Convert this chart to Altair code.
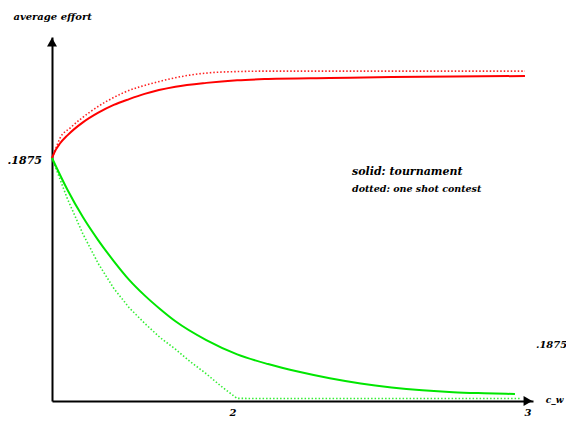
import altair as alt
import pandas as pd

# --- data ---
red_solid_x = [0, 0.025, 0.05, 0.1, 0.2, 0.3, 0.4, 0.5, 0.6, 0.8, 1.0, 1.2, 1.4, 1.8, 2.2, 2.6, 3.065]
red_solid_y = [0.1875, 0.1940, 0.1985, 0.2050, 0.2150, 0.2225, 0.2285, 0.2330, 0.2370, 0.2425, 0.2455, 0.2475, 0.2485, 0.2493, 0.2500, 0.2504, 0.2508]

red_dot_x = [0, 0.025, 0.052, 0.117, 0.246, 0.460, 0.680, 0.894, 1.108, 1.432, 1.931, 2.579, 3.065]
red_dot_y = [0.1875, 0.1950, 0.2029, 0.2106, 0.2230, 0.2377, 0.2461, 0.2515, 0.2539, 0.2546, 0.2546, 0.2546, 0.2546]

green_solid_x = [0, 0.1, 0.2, 0.3, 0.4, 0.5, 0.6, 0.7, 0.8, 1.0, 1.2, 1.4, 1.6, 1.8, 2.0, 2.2, 2.4, 2.6, 2.8, 3.0]
green_solid_y = [0.1875, 0.1630, 0.1420, 0.1240, 0.1080, 0.0935, 0.0815, 0.0710, 0.0615, 0.0470, 0.0360, 0.0285, 0.0225, 0.0175, 0.0135, 0.0105, 0.0083, 0.0068, 0.0060, 0.0054]

green_dot_x = [0, 0.1, 0.2, 0.3, 0.4, 0.5, 0.6, 0.7, 0.8, 0.9, 1.0, 1.1, 1.199, 1.614, 2.262, 3.032]
green_dot_y = [0.1875, 0.1560, 0.1290, 0.1060, 0.0870, 0.0720, 0.0600, 0.0490, 0.0400, 0.0300, 0.0210, 0.0110, 0.0020, 0.0019, 0.0019, 0.0019]

x_tick_pos = [1.173, 3.084]
x_tick_lab = ["2", "3"]

y_axis_title = "average effort"
x_axis_title = "c_w"
left_label = ".1875"
right_label = ".1875"
note_lines = ["solid: tournament", "dotted: one shot contest"]

XMAX = 3.117
YMAX = 0.2809

xs = alt.Scale(domain=[0, XMAX], nice=False, zero=False)
ys = alt.Scale(domain=[0, YMAX], nice=False, zero=False)

FONT = "DejaVu Serif"
AX = alt.Axis(title=None, labels=False, ticks=False, grid=False, domainColor="black", domainWidth=2)


def line_layer(xv, yv, color, width, dash=None, interp="monotone"):
    df = pd.DataFrame({"x": xv, "y": yv})
    kw = dict(color=color, strokeWidth=width, interpolate=interp)
    if dash:
        kw["strokeDash"] = dash
    return alt.Chart(df).mark_line(**kw).encode(
        x=alt.X("x:Q", scale=xs, axis=AX),
        y=alt.Y("y:Q", scale=ys, axis=AX),
    )


def text_layer(df, size, align="center", baseline="middle"):
    return alt.Chart(df).mark_text(
        font=FONT, fontStyle="italic", fontWeight="bold",
        fontSize=size, align=align, baseline=baseline, color="black"
    ).encode(x=alt.X("x:Q", scale=xs, axis=AX), y=alt.Y("y:Q", scale=ys, axis=AX), text="t:N")


layers = [
    line_layer(red_dot_x, red_dot_y, "#ff2020", 1.6, [1.5, 2]),
    line_layer(green_dot_x, green_dot_y, "#33ee33", 1.6, [1.5, 2], interp="linear"),
    line_layer(red_solid_x, red_solid_y, "#ff0000", 2),
    line_layer(green_solid_x, green_solid_y, "#00e600", 2),
]

# arrow heads on the axes
arrows_up = pd.DataFrame({"x": [0], "y": [0.2770]})
arrows_right = pd.DataFrame({"x": [3.084], "y": [0]})
layers.append(alt.Chart(arrows_up).mark_point(shape="triangle-up", filled=True, size=100, color="black", opacity=1)
              .encode(x=alt.X("x:Q", scale=xs, axis=AX), y=alt.Y("y:Q", scale=ys, axis=AX)))
layers.append(alt.Chart(arrows_right).mark_point(shape="triangle-right", filled=True, size=100, color="black", opacity=1)
              .encode(x=alt.X("x:Q", scale=xs, axis=AX), y=alt.Y("y:Q", scale=ys, axis=AX)))

# tick labels
layers.append(text_layer(pd.DataFrame({"x": x_tick_pos, "y": [-0.0095, -0.0095], "t": x_tick_lab}), 10))
layers.append(text_layer(pd.DataFrame({"x": [-0.065], "y": [0.1850], "t": [left_label]}), 11, align="right"))
layers.append(text_layer(pd.DataFrame({"x": [3.136], "y": [0.0432], "t": [right_label]}), 10, align="left"))
layers.append(text_layer(pd.DataFrame({"x": [3.20], "y": [0.0008], "t": [x_axis_title]}), 9, align="left"))
layers.append(text_layer(pd.DataFrame({"x": [-0.25], "y": [0.2963], "t": [y_axis_title]}), 10, align="left"))

# legend note
layers.append(text_layer(pd.DataFrame({"x": [1.944], "y": [0.1767], "t": [note_lines[0]]}), 11, align="left"))
layers.append(text_layer(pd.DataFrame({"x": [1.944], "y": [0.1636], "t": [note_lines[1]]}), 9.5, align="left"))

chart = alt.layer(*layers).properties(
    width=481, height=364,
    background="white",
    autosize=alt.AutoSizeParams(type="none"),
    padding={"left": 44, "top": 29, "right": 33, "bottom": 18},
).configure_view(strokeWidth=0, stroke="transparent")

chart.save("out.html", embed_options={"renderer": "svg", "actions": False})
